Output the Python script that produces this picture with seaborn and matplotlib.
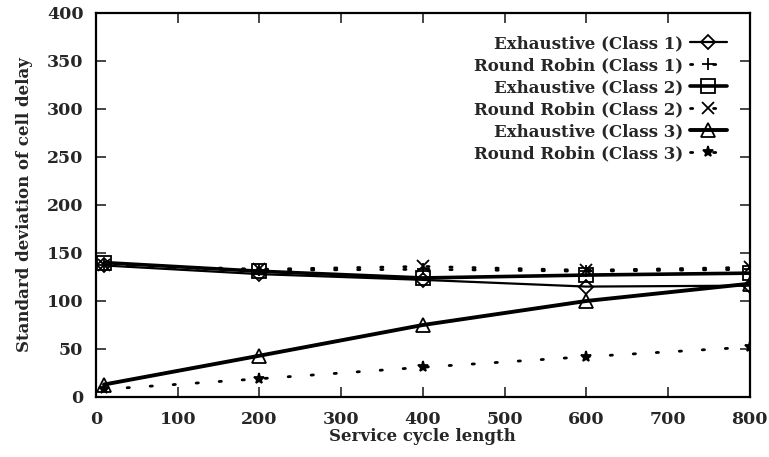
import matplotlib
matplotlib.use("Agg")
import matplotlib.pyplot as plt
import seaborn as sns
import pandas as pd

# Service cycle lengths at which the delay was measured
cycle_length = [10, 200, 400, 600, 800]

# Standard deviation of cell delay per scheduling policy / traffic class
exh_class1 = [137, 128, 122, 115, 116]
rr_class1 = [137, 132, 133, 131, 133]
exh_class2 = [140, 131, 124, 127, 129]
rr_class2 = [138, 133, 136, 132, 135]
exh_class3 = [13, 43, 75, 100, 118]
rr_class3 = [8, 19, 31, 42, 52]

series_names = [
    "Exhaustive (Class 1)",
    "Round Robin (Class 1)",
    "Exhaustive (Class 2)",
    "Round Robin (Class 2)",
    "Exhaustive (Class 3)",
    "Round Robin (Class 3)",
]
series_values = [exh_class1, rr_class1, exh_class2, rr_class2, exh_class3, rr_class3]

x_ticks = [0, 100, 200, 300, 400, 500, 600, 700, 800]
y_ticks = [0, 50, 100, 150, 200, 250, 300, 350, 400]

sns.set_theme(style="ticks")
plt.rcParams["font.family"] = ["DejaVu Serif"]
plt.rcParams["font.weight"] = "bold"

fig = plt.figure(figsize=(7.69, 4.57), dpi=100)
ax = fig.add_axes([0.1248, 0.1313, 0.975 - 0.1248, 0.9716 - 0.1313])

markers = ["D", "+", "s", "x", "^", "*"]
line_widths = [1.6, 2.0, 2.6, 2.0, 2.8, 2.0]
for i, (name, vals) in enumerate(zip(series_names, series_values)):
    df = pd.DataFrame({"cycle": cycle_length, "sd": vals})
    exhaustive = i % 2 == 0
    kw = dict(color="black", marker=markers[i], markersize=10 if exhaustive else 8,
              markeredgewidth=1.3, markeredgecolor="black", ax=ax, label=name,
              linewidth=line_widths[i])
    if exhaustive:
        kw.update(linestyle="-", markerfacecolor="none")
        if markers[i] == "D":
            kw["markersize"] = 7
    else:
        kw.update(dashes=(0.8, 7.5), dash_capstyle="round")
    sns.lineplot(data=df, x="cycle", y="sd", **kw)

ax.set_xlim(0, 800)
ax.set_ylim(0, 400)
ax.set_xticks(x_ticks)
ax.set_yticks(y_ticks)
ax.tick_params(direction="in", length=7, width=1.2, top=True, right=True,
               labelsize=12.5)
ax.tick_params(axis="x", pad=10)
ax.tick_params(axis="y", pad=9)
for lab in ax.get_xticklabels() + ax.get_yticklabels():
    lab.set_fontweight("bold")
for sp in ax.spines.values():
    sp.set_linewidth(1.6)
    sp.set_color("black")

ax.set_xlabel("Service cycle length", fontsize=12, fontweight="bold", labelpad=0)
ax.set_ylabel("Standard deviation of cell delay", fontsize=12, fontweight="bold", labelpad=10)

leg = ax.legend(loc="upper right", bbox_to_anchor=(0.975, 0.96), frameon=False,
                markerfirst=False, fontsize=12, handlelength=2.2, handletextpad=0.4,
                labelspacing=0.3, borderaxespad=0)
for t in leg.get_texts():
    t.set_fontweight("bold")

fig.savefig("out.png", dpi=100)
